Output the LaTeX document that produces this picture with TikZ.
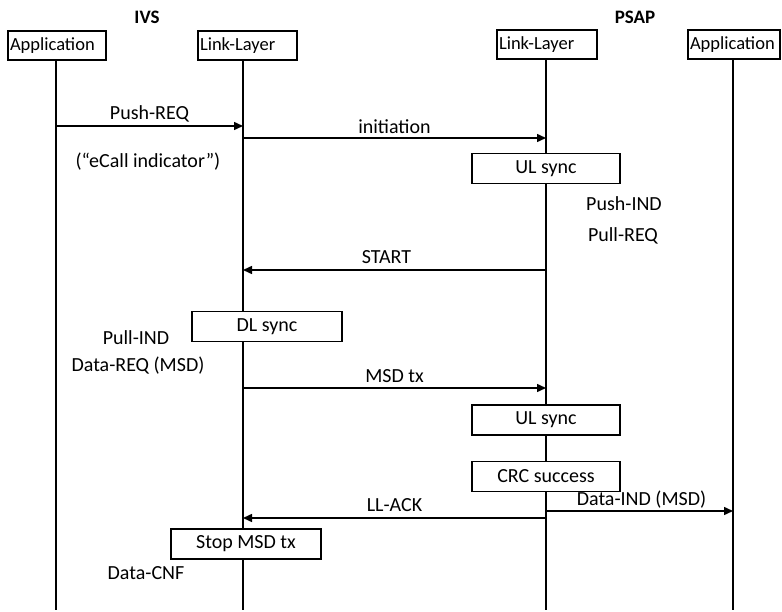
\documentclass[tikz,border=0pt]{standalone}
\usepackage{fontspec}
\setmainfont{Carlito}
\usetikzlibrary{arrows.meta}
\tikzset{
  hdr/.style={draw, line width=1.4pt, fill=white, inner xsep=2pt, inner ysep=0pt, minimum height=29pt, align=left, font=\fontsize{18.5}{20}\selectfont},
  actbox/.style={draw, line width=1.4pt, fill=white, inner sep=0pt, minimum height=30pt},
  life/.style={line width=1.5pt},
  msg/.style={line width=1.5pt, -{Triangle[length=9pt,width=8pt]}},
  lbl/.style={inner sep=0pt},
  ttl/.style={font=\fontsize{19}{21}\selectfont\bfseries, inner sep=0pt}
}
\begin{document}
\begin{tikzpicture}[x=1pt, y=-1pt, font=\fontsize{20}{22}\selectfont]
\useasboundingbox[fill=white] (0,0) rectangle (782,612);

% titles
\node[ttl] (ivs) at (147,17) {IVS};
\node[ttl] (psap) at (635,17) {PSAP};

% header boxes
\node[hdr, text width=94pt] (appI) at (57,45.5) {Application};
\node[hdr, text width=95pt] (llI) at (247.5,45.5) {Link-Layer};
\node[hdr, text width=96pt] (llP) at (547,44.5) {Link-Layer};
\node[hdr, text width=88pt] (appP) at (734,44.5) {Application};

% lifeline ends
\coordinate (bA) at (56,610);
\coordinate (bL) at (243,610);
\coordinate (bP) at (546,610);
\coordinate (bQ) at (733,610);
\draw[life] (appI.south -| bA) -- (bA);
\draw[life] (llI.south -| bL) -- (bL);
\draw[life] (llP.south -| bP) -- (bP);
\draw[life] (appP.south -| bQ) -- (bQ);

% message end points
\coordinate (m1a) at (56,126);  \coordinate (m1b) at (243,126);
\coordinate (m2a) at (243,138); \coordinate (m2b) at (546,138);
\coordinate (m3a) at (546,270); \coordinate (m3b) at (243,270);
\coordinate (m4a) at (243,388); \coordinate (m4b) at (546,388);
\coordinate (m5a) at (546,518); \coordinate (m5b) at (243,518);
\coordinate (m6a) at (546,511); \coordinate (m6b) at (733,511);

\draw[msg] (m1a) -- node[above=3pt, lbl] (l1) {Push-REQ} (m1b);
\draw[msg] (m2a) -- node[above=4pt, lbl] (l2) {initiation} (m2b);
\draw[msg] (m3a) -- node[above=6pt, lbl, xshift=-8pt] (l3) {START} (m3b);
\draw[msg] (m4a) -- node[above=5pt, lbl] (l4) {MSD tx} (m4b);
\draw[msg] (m5a) -- node[above=6pt, lbl] (l5) {LL-ACK} (m5b);
\draw[msg] (m6a) -- node[above=2pt, lbl, xshift=2pt] (l6) {Data-IND (MSD)} (m6b);

% activity boxes
\node[actbox, minimum width=148pt] (ul1) at (546,168.5) {UL sync};
\node[actbox, minimum width=150pt] (dl) at (267,326.5) {DL sync};
\node[actbox, minimum width=148pt] (ul2) at (546,420) {UL sync};
\node[actbox, minimum width=148pt] (crc) at (546,476.5) {CRC success};
\node[actbox, minimum width=150pt] (stop) at (246,544) {Stop MSD tx};

% free labels
\node[lbl] (ecall) at (148,162) {(“eCall indicator”)};
\node[lbl] (pushind) at (624,204) {Push-IND};
\node[lbl] (pullreq) at (623,236) {Pull-REQ};
\node[lbl] (pullind) at (136,338) {Pull-IND};
\node[lbl] (datareq) at (138,366) {Data-REQ (MSD)};
\node[lbl] (datacnf) at (146,573) {Data-CNF};
\end{tikzpicture}
\end{document}
